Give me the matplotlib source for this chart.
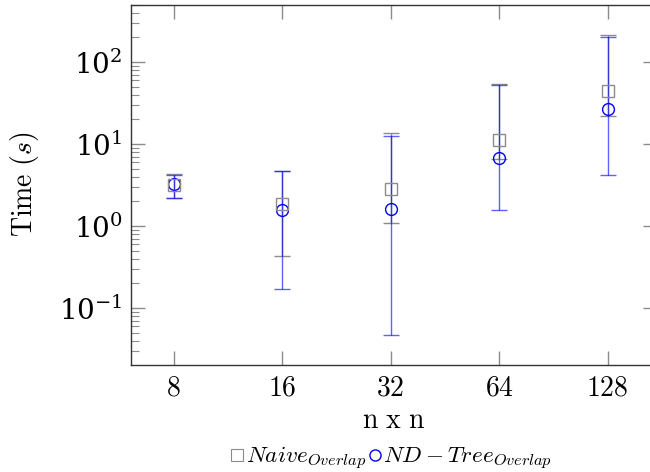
import matplotlib
matplotlib.use("Agg")
import matplotlib.pyplot as plt
from matplotlib.lines import Line2D
from matplotlib.ticker import FixedLocator, FixedFormatter, LogLocator, NullFormatter

plt.rcParams["mathtext.fontset"] = "cm"
plt.rcParams["font.family"] = "serif"
plt.rcParams["font.serif"] = ["DejaVu Serif"]

# datos
sizes = [8, 16, 32, 64, 128]
size_labels = ["8", "16", "32", "64", "128"]

naive_mean = [3.2, 1.88, 2.86, 11.3, 44.5]
naive_low = [2.22, 0.426, 1.10, 6.5, 21.7]
naive_high = [4.3, 4.75, 13.8, 54.2, 215]

tree_mean = [3.23, 1.59, 1.60, 6.84, 27.1]
tree_low = [2.22, 0.172, 0.0463, 1.59, 4.24]
tree_high = [4.25, 4.75, 12.4, 51.8, 201]

grey = "#8c8c8c"
blue = "#0000ff"

fig = plt.figure(figsize=(6.5, 4.72), dpi=100)
ax = fig.add_axes([0.201, 0.227, 0.8097, 0.763])

naive_err = [[m - l for m, l in zip(naive_mean, naive_low)],
             [h - m for m, h in zip(naive_mean, naive_high)]]
tree_err = [[m - l for m, l in zip(tree_mean, tree_low)],
            [h - m for m, h in zip(tree_mean, tree_high)]]

ax.errorbar(sizes, naive_mean, yerr=naive_err, fmt="s", color=grey,
            mfc="none", mec=grey, ms=8, mew=1.0, elinewidth=1.0,
            capsize=5.5, capthick=1.0, ecolor=grey)
ax.errorbar(sizes, tree_mean, yerr=tree_err, fmt="none", ecolor=blue,
            elinewidth=1.0, capsize=5.5, capthick=1.0, alpha=0.62)
ax.plot(sizes, tree_mean, "o", color=blue, mfc="none", mec=blue,
        ms=8.5, mew=1.0)

ax.set_xscale("log", base=2)
ax.set_yscale("log")
ax.set_xlim(2 ** 2.604, 2 ** 7.454)
ax.set_ylim(0.0203, 500)

ax.xaxis.set_major_locator(FixedLocator(sizes))
ax.xaxis.set_major_formatter(FixedFormatter(["$%s$" % s for s in size_labels]))
ax.xaxis.set_minor_locator(FixedLocator([]))
ax.yaxis.set_major_locator(LogLocator(base=10))
ax.yaxis.set_minor_locator(LogLocator(base=10, subs=range(2, 10)))
ax.yaxis.set_minor_formatter(NullFormatter())

ax.tick_params(which="both", direction="in", top=True, right=True,
               color=grey, labelsize=20)
ax.tick_params(which="major", length=10, width=1.0)
ax.tick_params(which="minor", length=6, width=0.8, right=False)
ax.tick_params(axis="y", pad=6)
ax.tick_params(axis="x", pad=7)

for sp in ax.spines.values():
    sp.set_color("#333333")
    sp.set_linewidth(1.0)

ax.set_xlabel(r"$\mathrm{n\ x\ n}$", fontsize=20, labelpad=4)
ax.set_ylabel(r"$\mathrm{Time}\ (s)$", fontsize=20, labelpad=13)

handles = [
    Line2D([], [], ls="none", marker="s", mfc="none", mec=grey, ms=8, mew=0.8),
    Line2D([], [], ls="none", marker="o", mfc="none", mec=blue, ms=8, mew=1.0),
]
labels = [r"$Naive_{Overlap}$", r"$ND-Tree_{Overlap}$"]
fig.legend(handles, labels, loc="center", bbox_to_anchor=(0.602, 0.028),
           ncol=2, frameon=False, fontsize=16.8, handlelength=0.6,
           handletextpad=0.05, columnspacing=0.1, borderpad=0)

fig.savefig("out.png", dpi=100)
